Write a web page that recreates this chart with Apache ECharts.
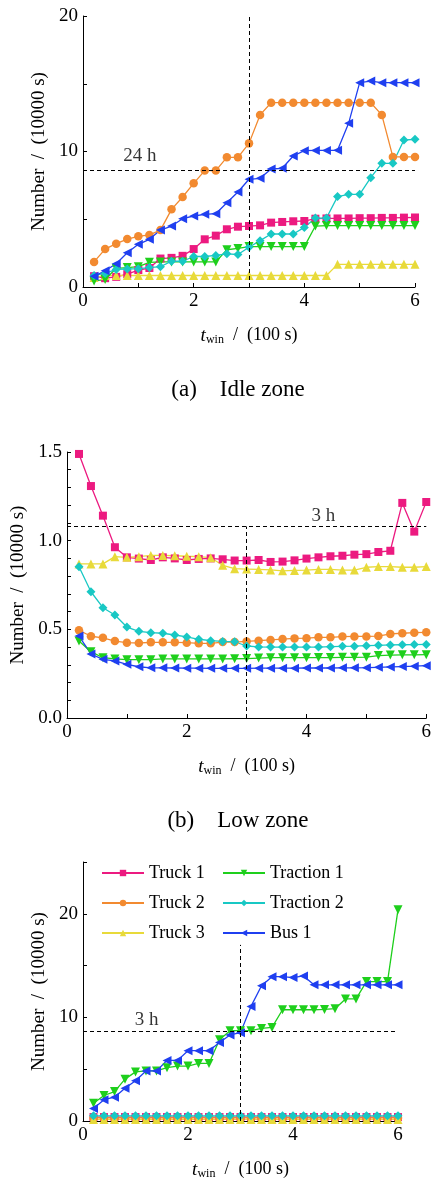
<!DOCTYPE html>
<html>
<head>
<meta charset="utf-8">
<script src="https://cdn.jsdelivr.net/npm/echarts@6/dist/echarts.min.js"></script>
<style>
  html, body { margin: 0; padding: 0; background: #fff; }
  #chart { width: 434px; height: 1181px; }
</style>
</head>
<body>
<div id="chart"></div>
<script>
// window length t_win (100 s)
const twin = [0.2, 0.4, 0.6, 0.8, 1.0, 1.2, 1.4, 1.6, 1.8, 2.0, 2.2, 2.4, 2.6, 2.8, 3.0,
  3.2, 3.4, 3.6, 3.8, 4.0, 4.2, 4.4, 4.6, 4.8, 5.0, 5.2, 5.4, 5.6, 5.8, 6.0]

// (a) idle zone
const idleTruck1 = [0.8, 0.65, 0.75, 0.95, 1.25, 1.4, 2.1, 2.15, 2.3, 2.8, 3.52, 3.79, 4.26, 4.45, 4.5,
  4.55, 4.75, 4.8, 4.85, 4.87, 5.04, 5.06, 5.06, 5.06, 5.08, 5.08, 5.1, 5.1, 5.12, 5.13]
const idleTruck2 = [1.85, 2.8, 3.2, 3.54, 3.74, 3.84, 4.2, 5.73, 6.64, 7.65, 8.59, 8.59, 9.57, 9.57, 10.6,
  12.7, 13.6, 13.6, 13.6, 13.6, 13.6, 13.6, 13.6, 13.6, 13.6, 13.6, 12.7, 9.6, 9.6, 9.6]
const idleTruck3 = [0.7, 0.85, 0.85, 0.85, 0.85, 0.85, 0.85, 0.85, 0.85, 0.85, 0.85, 0.85, 0.85, 0.85, 0.85,
  0.85, 0.85, 0.85, 0.85, 0.85, 0.85, 0.85, 1.67, 1.67, 1.67, 1.67, 1.67, 1.67, 1.67, 1.67]
const idleTraction1 = [0.45, 0.55, 1.38, 1.43, 1.5, 1.82, 1.85, 1.85, 1.85, 1.85, 1.85, 1.85, 2.75, 2.85, 2.98,
  2.98, 2.98, 2.98, 2.98, 2.98, 4.5, 4.53, 4.53, 4.53, 4.53, 4.53, 4.53, 4.53, 4.53, 4.53]
const idleTraction2 = [0.85, 1.0, 1.3, 1.33, 1.35, 1.43, 1.5, 1.9, 1.9, 2.25, 2.25, 2.33, 2.45, 2.4, 2.93,
  3.42, 3.91, 3.91, 3.91, 4.4, 5.09, 5.09, 6.67, 6.84, 6.84, 8.07, 9.13, 9.13, 10.85, 10.9]
const idleBus1 = [0.79, 1.2, 1.72, 2.53, 3.15, 3.52, 4.2, 4.5, 5.04, 5.24, 5.36, 5.41, 6.22, 7.01, 7.95,
  8.02, 8.71, 8.76, 9.67, 10.06, 10.08, 10.08, 10.09, 12.08, 15.08, 15.2, 15.08, 15.08, 15.08, 15.08]

// (b) low zone
const lowTruck1 = [1.489, 1.308, 1.141, 0.963, 0.906, 0.899, 0.891, 0.906, 0.9, 0.891, 0.897, 0.9, 0.895, 0.888, 0.888,
  0.891, 0.88, 0.882, 0.889, 0.899, 0.906, 0.912, 0.915, 0.921, 0.924, 0.936, 0.943, 1.213, 1.051, 1.218]
const lowTruck2 = [0.495, 0.461, 0.452, 0.434, 0.425, 0.423, 0.427, 0.427, 0.427, 0.425, 0.421, 0.421, 0.428, 0.428, 0.432,
  0.436, 0.44, 0.445, 0.449, 0.45, 0.455, 0.455, 0.459, 0.46, 0.46, 0.462, 0.474, 0.478, 0.481, 0.483]
const lowTruck3 = [0.869, 0.869, 0.869, 0.91, 0.906, 0.91, 0.917, 0.917, 0.915, 0.912, 0.91, 0.904, 0.861, 0.842, 0.84,
  0.838, 0.835, 0.83, 0.832, 0.834, 0.838, 0.838, 0.834, 0.834, 0.85, 0.854, 0.854, 0.85, 0.85, 0.854]
const lowTraction1 = [0.434, 0.374, 0.34, 0.333, 0.329, 0.329, 0.329, 0.333, 0.333, 0.333, 0.333, 0.333, 0.333, 0.334, 0.335,
  0.338, 0.34, 0.34, 0.34, 0.34, 0.341, 0.341, 0.342, 0.342, 0.343, 0.352, 0.355, 0.356, 0.356, 0.357]
const lowTraction2 = [0.853, 0.712, 0.622, 0.581, 0.513, 0.489, 0.481, 0.478, 0.468, 0.457, 0.444, 0.436, 0.432, 0.43, 0.406,
  0.401, 0.4, 0.4, 0.4, 0.4, 0.4, 0.402, 0.404, 0.405, 0.408, 0.41, 0.412, 0.413, 0.414, 0.415]
const lowBus1 = [0.462, 0.361, 0.331, 0.322, 0.303, 0.289, 0.283, 0.283, 0.282, 0.281, 0.281, 0.28, 0.28, 0.28, 0.28,
  0.281, 0.281, 0.281, 0.281, 0.282, 0.282, 0.282, 0.283, 0.283, 0.284, 0.286, 0.288, 0.29, 0.292, 0.295]

// (c) third panel
const highTruck1 = [0.38, 0.38, 0.38, 0.38, 0.38, 0.38, 0.38, 0.38, 0.38, 0.38, 0.38, 0.38, 0.38, 0.38, 0.38,
  0.38, 0.38, 0.38, 0.38, 0.38, 0.38, 0.38, 0.38, 0.38, 0.38, 0.38, 0.38, 0.38, 0.38, 0.38]
const highTruck2 = [0.3, 0.3, 0.3, 0.3, 0.3, 0.3, 0.3, 0.3, 0.3, 0.3, 0.3, 0.3, 0.3, 0.3, 0.3,
  0.3, 0.3, 0.3, 0.3, 0.3, 0.3, 0.3, 0.3, 0.3, 0.3, 0.3, 0.3, 0.3, 0.3, 0.3]
const highTruck3 = [0.15, 0.15, 0.15, 0.15, 0.15, 0.15, 0.15, 0.15, 0.15, 0.15, 0.15, 0.15, 0.15, 0.15, 0.15,
  0.15, 0.15, 0.15, 0.15, 0.15, 0.15, 0.15, 0.15, 0.15, 0.15, 0.15, 0.15, 0.15, 0.15, 0.15]
const highTraction1 = [1.71, 2.46, 2.84, 4.04, 4.74, 4.83, 4.83, 5.15, 5.3, 5.3, 5.56, 5.56, 7.84, 8.72, 8.72,
  8.72, 8.94, 9.03, 10.74, 10.74, 10.74, 10.74, 10.77, 10.84, 11.78, 11.78, 13.46, 13.46, 13.46, 20.4]
const highTraction2 = [0.5, 0.5, 0.5, 0.5, 0.5, 0.5, 0.5, 0.5, 0.5, 0.5, 0.5, 0.5, 0.5, 0.5, 0.5,
  0.5, 0.5, 0.5, 0.5, 0.5, 0.5, 0.5, 0.5, 0.5, 0.5, 0.5, 0.5, 0.5, 0.5, 0.5]
const highBus1 = [1.2, 2.06, 2.3, 3.16, 3.89, 4.83, 4.83, 5.85, 5.85, 6.79, 6.79, 6.79, 7.58, 8.31, 8.53,
  11.06, 13.05, 13.93, 13.93, 13.84, 14.0, 13.14, 13.14, 13.14, 13.14, 13.14, 13.14, 13.14, 13.14, 13.14]

// dashed reference lines: [horizontal value, vertical x, vertical top]
const idleRef = [8.64, 3, 20]
const lowRef = [1.08, 3, 1.08]
const highRef = [8.64, 3, 17]
// annotation text and where it sits (data coords)
const refLabels = ['24 h', '3 h', '3 h']
const refLabelAt = [[1.03, 9.69], [4.28, 1.14], [1.21, 9.79]]

const names = ['Truck 1', 'Truck 2', 'Truck 3', 'Traction 1', 'Traction 2', 'Bus 1']
const colors = ['#ec1a80', '#f28a30', '#e8da3a', '#1ecf1c', '#18c8c4', '#1f3ff0']
const symbols = ['rect', 'circle', 'triangle', 'triangle', 'diamond', 'triangle']
const rotates = [0, 0, 0, 180, 0, 90]
const sizes = [8, 8.5, 9, 9, 9, 9]

const serif = '"Liberation Serif", "Times New Roman", serif'

const panels = [
  [idleTruck1, idleTruck2, idleTruck3, idleTraction1, idleTraction2, idleBus1],
  [lowTruck1, lowTruck2, lowTruck3, lowTraction1, lowTraction2, lowBus1],
  [highTruck1, highTruck2, highTruck3, highTraction1, highTraction2, highBus1]
]
const refs = [idleRef, lowRef, highRef]

let series = []
panels.forEach((sets, p) => {
  sets.forEach((vals, k) => {
    series.push({
      name: names[k],
      type: 'line',
      xAxisIndex: p,
      yAxisIndex: p,
      data: twin.map((x, i) => [x, vals[i]]),
      symbol: symbols[k],
      symbolSize: sizes[k],
      symbolRotate: rotates[k],
      showAllSymbol: true,
      lineStyle: { color: colors[k], width: 1.3 },
      itemStyle: { color: colors[k] },
      z: 3
    })
  })
  const r = refs[p]
  // reference lines + "24 h / 3 h" text
  series.push({
    type: 'scatter',
    xAxisIndex: p,
    yAxisIndex: p,
    silent: true,
    symbolSize: 0,
    data: [refLabelAt[p]],
    label: { show: true, position: 'inside', formatter: refLabels[p], color: '#000', fontSize: 19, fontFamily: serif },
    markLine: {
      symbol: 'none',
      silent: true,
      label: { show: false },
      lineStyle: { color: '#000', width: 1, type: [4, 3] },
      data: [
        [{ coord: [0, r[0]] }, { coord: [6, r[0]] }],
        [{ coord: [r[1], 0] }, { coord: [r[1], r[2]] }]
      ]
    },
    z: 2
  })
})

const tickText = { fontFamily: serif, fontSize: 19, color: '#000' }
const xName = '{i|t}{s|win}{n|  /  (100 s)}'
const xNameStyle = {
  fontFamily: serif, color: '#000',
  rich: {
    i: { fontFamily: serif, fontStyle: 'italic', fontSize: 19, color: '#000' },
    s: { fontFamily: serif, fontSize: 12, color: '#000', padding: [9, 0, 0, 0] },
    n: { fontFamily: serif, fontSize: 18, color: '#000' }
  }
}

function xAxisFor(i) {
  return {
    type: 'value', gridIndex: i, min: 0, max: 6, interval: 1,
    name: xName, nameLocation: 'middle', nameGap: 38, nameTextStyle: xNameStyle,
    axisLine: { onZero: false, lineStyle: { color: '#000', width: 1 } },
    axisTick: { inside: true, length: 4, lineStyle: { color: '#000' } },
    axisLabel: Object.assign({ margin: 5, formatter: v => (v % 2 === 0 ? String(v) : '') }, tickText),
    splitLine: { show: false }
  }
}

function yAxisFor(i, max, interval, fmt, gap) {
  return {
    type: 'value', gridIndex: i, min: 0, max: max, interval: interval,
    name: 'Number  /  (10000 s)', nameLocation: 'middle', nameGap: gap,
    nameTextStyle: { fontFamily: serif, fontSize: 19, color: '#000' },
    axisLine: { show: true, lineStyle: { color: '#000', width: 1 } },
    axisTick: { show: true, inside: true, length: 4, lineStyle: { color: '#000' } },
    axisLabel: Object.assign({ margin: 5, formatter: fmt }, tickText),
    splitLine: { show: false }
  }
}

const legendBase = {
  orient: 'vertical', itemWidth: 42, itemHeight: 8, itemGap: 12, padding: 0,
  textStyle: { fontFamily: serif, fontSize: 18, color: '#000' },
  selectedMode: false
}

const captionFont = '23px ' + serif

let myChart = echarts.init(document.getElementById('chart'))
myChart.setOption({
  animation: false,
  backgroundColor: '#fff',
  grid: [
    { left: 83, top: 16, width: 332, height: 271 },
    { left: 67, top: 452, width: 360, height: 266 },
    { left: 83, top: 862, width: 315, height: 264 }
  ],
  xAxis: [xAxisFor(0), xAxisFor(1), xAxisFor(2)],
  yAxis: [
    yAxisFor(0, 20, 5, v => (v % 10 === 0 ? String(v) : ''), 20),
    yAxisFor(1, 1.5, 0.1, v => (Math.round(v * 10) % 5 === 0 ? v.toFixed(1) : ''), 26),
    yAxisFor(2, 25, 5, v => (v % 10 === 0 ? String(v) : ''), 15)
  ],
  legend: [
    Object.assign({ data: ['Truck 1', 'Truck 2', 'Truck 3'], left: 101, top: 864 }, legendBase),
    Object.assign({ data: ['Traction 1', 'Traction 2', 'Bus 1'], left: 222, top: 864 }, legendBase)
  ],
  graphic: [
    { type: 'text', x: 238, y: 390, style: { text: '(a)    Idle zone', font: captionFont, fill: '#000', textAlign: 'center', textVerticalAlign: 'middle' } },
    { type: 'text', x: 238, y: 821, style: { text: '(b)    Low zone', font: captionFont, fill: '#000', textAlign: 'center', textVerticalAlign: 'middle' } }
  ],
  series: series
})
window.onresize = () => {
  myChart.resize()
}
</script>
</body>
</html>
